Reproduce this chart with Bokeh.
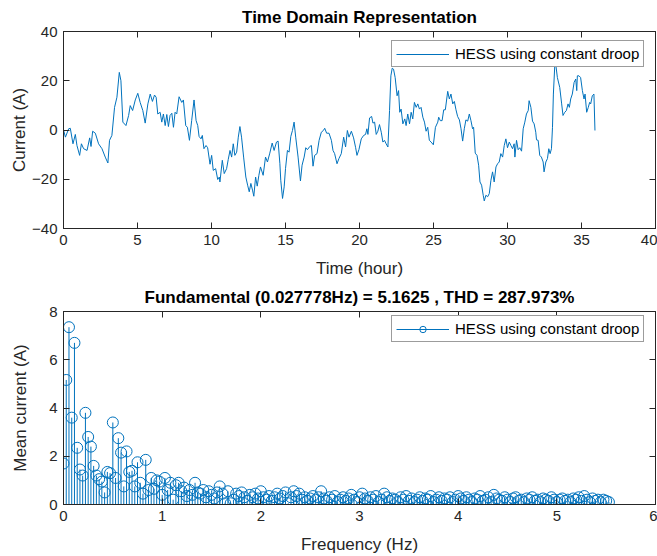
import numpy as np
from bokeh.plotting import figure
from bokeh.layouts import column
from bokeh.models import (Range1d, FixedTicker, LinearAxis, Legend, LegendItem, Title,
                          CustomLabelingPolicy)
from bokeh.embed import file_html
from bokeh.resources import INLINE

# ---------------- data ----------------
time_hours = [
    0.00, 0.13, 0.35, 0.46, 0.64, 0.80, 0.91, 1.09, 1.21, 1.36, 1.59, 1.77, 1.86, 1.97, 2.15,
    2.37, 2.60, 2.82, 3.00, 3.11, 3.27, 3.45, 3.61, 3.77, 3.88, 4.01, 4.22, 4.40, 4.51, 4.67,
    4.85, 5.02, 5.18, 5.36, 5.52, 5.70, 5.86, 6.01, 6.15, 6.26, 6.37, 6.53, 6.64, 6.75, 6.87,
    6.98, 7.09, 7.20, 7.32, 7.43, 7.54, 7.65, 7.81, 7.99, 8.10, 8.26, 8.37, 8.51, 8.66, 8.82,
    8.96, 9.07, 9.16, 9.29, 9.38, 9.49, 9.63, 9.74, 9.90, 10.01, 10.12, 10.28, 10.42, 10.53,
    10.57, 10.73, 10.86, 11.02, 11.13, 11.25, 11.36, 11.47, 11.58, 11.70, 11.81, 11.92, 12.03,
    12.17, 12.32, 12.44, 12.55, 12.66, 12.77, 12.86, 12.98, 13.09, 13.20, 13.31, 13.49, 13.65,
    13.78, 13.94, 14.10, 14.23, 14.39, 14.50, 14.62, 14.68, 14.80, 14.91, 15.00, 15.13, 15.24,
    15.36, 15.47, 15.58, 15.69, 15.85, 16.01, 16.12, 16.26, 16.37, 16.48, 16.64, 16.75, 16.86,
    16.97, 17.13, 17.27, 17.42, 17.56, 17.65, 17.78, 17.94, 18.10, 18.21, 18.32, 18.48, 18.61,
    18.77, 18.93, 19.06, 19.18, 19.29, 19.45, 19.60, 19.74, 19.83, 19.96, 20.12, 20.28, 20.41,
    20.50, 20.57, 20.68, 20.82, 20.91, 21.02, 21.13, 21.24, 21.35, 21.47, 21.58, 21.69, 21.80,
    21.92, 22.03, 22.12, 22.21, 22.30, 22.41, 22.54, 22.64, 22.72, 22.81, 22.93, 23.06, 23.15,
    23.26, 23.38, 23.49, 23.60, 23.71, 23.83, 23.94, 24.05, 24.16, 24.28, 24.39, 24.50, 24.61,
    24.72, 24.84, 24.99, 25.13, 25.29, 25.35, 25.46, 25.58, 25.69, 25.80, 25.96, 26.07, 26.18,
    26.30, 26.41, 26.52, 26.63, 26.75, 26.86, 26.97, 27.08, 27.19, 27.31, 27.42, 27.53, 27.64,
    27.71, 27.82, 27.94, 28.05, 28.14, 28.25, 28.36, 28.43, 28.54, 28.66, 28.77, 28.88, 28.99,
    29.10, 29.22, 29.33, 29.44, 29.55, 29.67, 29.78, 29.89, 30.00, 30.12, 30.23, 30.34, 30.45,
    30.50, 30.61, 30.72, 30.83, 30.95, 31.06, 31.17, 31.28, 31.40, 31.46, 31.58, 31.69, 31.80,
    31.91, 31.96, 32.07, 32.18, 32.29, 32.41, 32.47, 32.59, 32.70, 32.79, 32.88, 32.97, 33.04,
    33.10, 33.19, 33.26, 33.37, 33.53, 33.66, 33.75, 33.87, 33.98, 34.09, 34.18, 34.27, 34.38,
    34.50, 34.61, 34.68, 34.72, 34.83, 34.94, 35.06, 35.17, 35.24, 35.35, 35.46, 35.55, 35.62,
    35.73, 35.84, 35.91,
]
current_A = [
    0.0, -2.9, 0.5, 0.7, -5.6, -1.8, -6.3, -10.3, -5.6, -7.6, -8.3, -3.2, -6.7, -0.5, -1.3,
    -5.6, -7.6, -11.0, -13.4, -4.2, -2.2, 9.2, 13.3, 23.4, 20.0, 3.2, 1.8, 5.9, 9.9, 7.9,
    12.2, 14.9, 11.2, 7.9, 2.8, 10.6, 14.6, 11.6, 14.2, 13.3, 6.5, 7.2, 3.2, 6.5, 1.8,
    6.3, 1.4, 5.9, 6.8, 1.1, 7.2, 6.5, 13.5, 11.2, 12.2, 1.8, 1.1, -4.2, 3.8, 12.2,
    3.8, 1.8, -2.6, -3.6, -2.2, -7.6, -6.3, -7.2, -13.9, -10.3, -16.4, -15.7, -20.1, -19.1,
    -21.1, -12.3, -17.7, -15.7, -12.0, -8.3, -11.0, -5.6, -10.3, -9.0, -2.9, 1.4, -2.9,
    -11.0, -19.1, -22.4, -25.1, -21.7, -24.4, -26.9, -19.1, -22.8, -18.4, -15.0, -18.4, -11.0,
    -13.0, -9.4, -5.3, -8.3, -4.9, -4.5, -13.7, -20.4, -27.8, -23.1, -15.7, -8.3, -9.0,
    -2.6, -0.2, 3.2, -2.9, -11.0, -20.7, -14.3, -11.0, -7.2, -8.0, -6.7, -6.3, -14.7,
    -10.3, -9.6, -4.2, -0.9, -0.2, 0.7, -1.3, -1.3, -4.2, -8.3, -9.6, -13.7, -11.6,
    -9.6, -2.9, -6.9, -0.2, -2.9, -0.5, -3.2, -7.2, -10.3, -8.0, -3.6, -2.2, -1.8,
    0.5, -1.8, 4.9, 5.5, 2.8, 3.2, -1.8, -0.5, 2.2, -0.9, -4.9, -4.2, -5.6,
    -6.9, 7.9, 22.0, 25.1, 24.7, 21.3, 13.9, 16.0, 7.2, 8.5, 2.5, 4.5, 1.8,
    6.5, 2.5, 7.2, 4.5, 11.2, 9.2, 10.6, 8.5, 9.2, 5.2, 3.2, -0.5, 1.1,
    -4.2, -4.9, -6.0, 1.1, 3.2, 5.2, 3.8, 3.8, 8.2, 8.2, 15.7, 12.6, 14.6,
    10.6, 11.6, 8.2, 5.5, 4.1, 0.5, -4.5, 0.5, 4.1, 3.6, 6.5, 3.8, 0.5,
    1.1, -9.4, -10.3, -14.3, -21.1, -22.4, -26.5, -28.8, -26.5, -27.1, -25.8, -20.4, -17.0,
    -21.1, -15.0, -13.7, -13.0, -9.6, -11.0, -6.3, -3.6, -7.2, -4.9, -6.3, -7.6, -5.6,
    -11.0, -4.2, -8.0, -7.2, -8.6, 0.5, 3.2, 6.5, 7.9, 11.9, 9.2, 3.6, 2.5,
    -0.9, -4.0, -4.2, -10.3, -11.0, -13.0, -17.0, -13.0, -11.6, -7.6, -9.6, -7.6, 1.1,
    14.6, 25.7, 26.7, 21.3, 17.3, 10.6, 5.9, 7.2, 7.9, 10.6, 9.2, 12.6, 14.6,
    19.3, 20.7, 16.0, 22.0, 22.0, 21.3, 16.0, 12.6, 14.6, 7.2, 9.2, 11.2, 10.6,
    13.9, 14.6, -0.2,
]

fundamental_hz = 0.027778
mean_current_A = [
    1.7, 5.1625, 7.35, 3.6, 6.7, 2.35, 1.45, 1.2, 3.8, 2.8,
    2.4, 1.6, 1.2, 1.05, 0.95, 0.5, 1.35, 1.3, 3.4, 1.1,
    2.75, 2.15, 0.75, 2.2, 1.35, 1.4, 0.75, 1.75, 0.9, 0.45,
    1.85, 0.6, 1.1, 0.65, 1.0, 0.95, 0.4, 1.1, 0.6, 0.9,
    0.2, 0.8, 0.9, 0.55, 0.7, 0.35, 0.6, 0.4, 0.9, 0.5,
    0.45, 0.6, 0.3, 0.55, 0.4, 0.25, 0.5, 0.75, 0.45, 0.05,
    0.55, 0.05, 0.2, 0.45, 0.35, 0.5, 0.3, 0.15, 0.4, 0.3,
    0.45, 0.25, 0.55, 0.3, 0.2, 0.35, 0.15, 0.3, 0.45, 0.25,
    0.35, 0.5, 0.05, 0.3, 0.55, 0.35, 0.45, 0.2, 0.3, 0.15,
    0.25, 0.35, 0.2, 0.3, 0.55, 0.25, 0.15, 0.3, 0.2, 0.35,
    0.1, 0.2, 0.3, 0.15, 0.25, 0.4, 0.2, 0.1, 0.3, 0.45,
    0.25, 0.15, 0.3, 0.2, 0.35, 0.1, 0.2, 0.45, 0.3, 0.15,
    0.25, 0.2, 0.1, 0.3, 0.2, 0.35, 0.15, 0.25, 0.1, 0.2,
    0.3, 0.15, 0.25, 0.2, 0.35, 0.1, 0.2, 0.3, 0.15, 0.25,
    0.2, 0.3, 0.1, 0.2, 0.35, 0.25, 0.15, 0.3, 0.2, 0.1,
    0.25, 0.2, 0.35, 0.15, 0.2, 0.3, 0.1, 0.4, 0.25, 0.2,
    0.15, 0.3, 0.2, 0.1, 0.25, 0.3, 0.15, 0.2, 0.1, 0.25,
    0.2, 0.3, 0.15, 0.2, 0.1, 0.25, 0.2, 0.15, 0.3, 0.2,
    0.1, 0.2, 0.25, 0.15, 0.2, 0.1, 0.25, 0.2, 0.3, 0.15,
    0.35, 0.2, 0.1, 0.25, 0.15, 0.2, 0.1, 0.2, 0.15, 0.1,
]

time_ticks = [0, 5, 10, 15, 20, 25, 30, 35, 40]
current_ticks = [-40, -20, 0, 20, 40]
freq_ticks = [0, 1, 2, 3, 4, 5, 6]
mean_ticks = [0, 2, 4, 6, 8]

top_title = "Time Domain Representation"
bottom_title = "Fundamental (0.027778Hz) = 5.1625 , THD = 287.973%"
series_name = "HESS using constant droop"

# ---------------- styling ----------------
FONT = "Liberation Sans"
AX = "#262626"
BLUE = "#0072BD"

NO_LABELS = "for (const i of indices) { indices.unset(i) } return indices"


def style_axis(ax, ticks, labels=True):
    ax.ticker = FixedTicker(ticks=ticks)
    ax.axis_line_color = AX
    ax.axis_line_width = 1
    ax.major_tick_line_color = AX
    ax.major_tick_in = 6
    ax.major_tick_out = 0
    ax.minor_tick_line_color = None
    ax.major_label_text_font = FONT
    ax.major_label_text_color = AX
    ax.axis_label_text_font = FONT
    ax.axis_label_text_color = AX
    ax.axis_label_text_font_style = "normal"
    ax.axis_label_text_font_size = "17px"
    if labels:
        ax.major_label_text_font_size = "15px"
        ax.major_label_standoff = 6
    else:
        ax.major_label_text_font_size = "0px"
        ax.major_label_standoff = 0
        ax.major_label_policy = CustomLabelingPolicy(code=NO_LABELS)


def make_fig(height, xr, yr, xt, yt, xlabel, ylabel, title, top_border, bottom_border,
             ylabel_standoff):
    p = figure(width=657, height=height, x_range=xr, y_range=yr,
               output_backend="svg", toolbar_location=None,
               min_border_left=63, min_border_right=2,
               min_border_top=top_border, min_border_bottom=bottom_border,
               background_fill_color="white", border_fill_color="white")
    p.xgrid.visible = False
    p.ygrid.visible = False
    p.outline_line_color = AX
    p.outline_line_width = 1
    style_axis(p.xaxis[0], xt)
    style_axis(p.yaxis[0], yt)
    p.xaxis[0].axis_label = xlabel
    p.yaxis[0].axis_label = ylabel
    p.xaxis[0].axis_label_standoff = 11
    p.yaxis[0].axis_label_standoff = ylabel_standoff
    top_ax = LinearAxis()
    style_axis(top_ax, xt, labels=False)
    p.add_layout(top_ax, "above")
    right_ax = LinearAxis()
    style_axis(right_ax, yt, labels=False)
    p.add_layout(right_ax, "right")
    t = Title(text=title, align="center", text_font=FONT, text_font_size="17px",
              text_font_style="bold", text_color="black")
    p.add_layout(t, "above")
    return p


def style_legend(lg, loc):
    lg.location = loc
    lg.margin = 0
    lg.padding = 4
    lg.spacing = 0
    lg.label_text_font = FONT
    lg.label_text_font_size = "15px"
    lg.label_text_color = "black"
    lg.label_standoff = 6
    lg.glyph_width = 53
    lg.glyph_height = 16
    lg.label_height = 16
    lg.border_line_color = "#3a3a3a"
    lg.border_line_width = 1
    lg.background_fill_color = "white"
    lg.background_fill_alpha = 1.0


# ---------------- top: time domain ----------------
p1 = make_fig(280, Range1d(0, 40), Range1d(-40, 40), time_ticks, current_ticks,
              "Time (hour)", "Current (A)", top_title, 31, 52, 0)
ln = p1.line(time_hours, current_A, line_color=BLUE, line_width=1)
lg1 = Legend(items=[LegendItem(label=series_name, renderers=[ln])])
style_legend(lg1, (328, 161))
p1.add_layout(lg1)

# ---------------- bottom: spectrum ----------------
freqs = np.arange(len(mean_current_A)) * fundamental_hz
vals = np.array(mean_current_A)
p2 = make_fig(276, Range1d(0, 6), Range1d(0, 8), freq_ticks, mean_ticks,
              "Frequency (Hz)", "Mean current (A)", bottom_title, 30, 51, 16)
seg = p2.segment(x0=freqs, y0=np.zeros_like(vals), x1=freqs, y1=vals,
                 line_color=BLUE, line_width=1)
circ = p2.scatter(freqs, vals, marker="circle", size=11, fill_color=None,
                  line_color=BLUE, line_width=1)
lg2 = Legend(items=[LegendItem(label=series_name, renderers=[seg, circ])])
style_legend(lg2, (328, 162))
p2.add_layout(lg2)

layout = column(p1, p2, spacing=0)
open("out.html", "w").write(file_html(layout, INLINE))
